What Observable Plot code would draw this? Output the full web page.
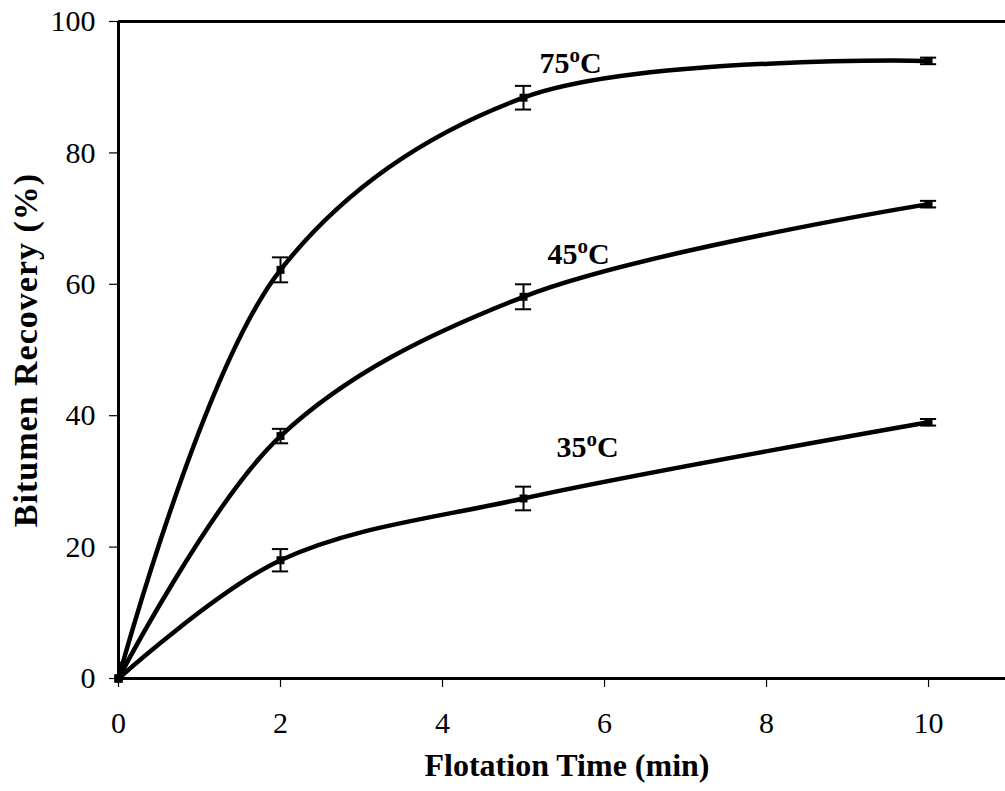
<!DOCTYPE html>
<html><head><meta charset="utf-8">
<script src="https://cdn.jsdelivr.net/npm/d3@7"></script>
<script src="https://cdn.jsdelivr.net/npm/@observablehq/plot@0.6"></script>
<style>body{margin:0;background:#fff} svg{display:block}</style>
</head><body><div id="chart"></div>
<script>
const times = [0, 2, 5, 10];
const rec75 = [0, 62.2, 88.4, 94];
const err75 = [2.4, 1.9, 1.8, 0.5];
const rec45 = [0, 36.9, 58.1, 72.2];
const err45 = [2, 1.1, 1.9, 0.5];
const rec35 = [0, 18, 27.4, 39];
const err35 = [2, 1.7, 1.8, 0.5];
const seriesNames = ["75oC", "45oC", "35oC"];
const labelX = [5.58, 5.68, 5.79];
const labelY = [93.7, 64.5, 35.2];
const xTicks = [0, 2, 4, 6, 8, 10];
const yTicks = [0, 20, 40, 60, 80, 100];
const xTitle = "Flotation Time (min)";
const yTitle = "Bitumen Recovery (%)";

const allRec = [rec75, rec45, rec35];
const allErr = [err75, err45, err35];
const rows = [];
seriesNames.forEach((s, i) => times.forEach((t, j) => rows.push({series: s, x: t, y: allRec[i][j], e: allErr[i][j]})));
const labels = seriesNames.map((s, i) => ({text: s, x: labelX[i], y: labelY[i]}));

const capHalf = 0.1;
const font = "'Liberation Serif', 'Times New Roman', serif";

const plot = Plot.plot({
  width: 1005, height: 791,
  marginLeft: 118, marginRight: 0, marginTop: 21, marginBottom: 113,
  style: {fontFamily: font, fontSize: "30px", color: "#000", background: "#fff", overflow: "visible"},
  x: {domain: [0, 10.95]},
  y: {domain: [0, 100]},
  marks: [
    Plot.axisX({ticks: xTicks, tickSize: 9, tickPadding: 24, label: null, strokeWidth: 1.2, fontSize: 30, className: "tickx"}),
    Plot.axisY({ticks: yTicks, tickSize: 9, tickPadding: 14, label: null, strokeWidth: 1.2, fontSize: 30, className: "ticky"}),
    Plot.ruleY([0, 100], {stroke: "#000", strokeWidth: 3}),
    Plot.ruleX([0], {stroke: "#000", strokeWidth: 3}),
    Plot.line(rows, {x: "x", y: "y", z: "series", curve: "catmull-rom", stroke: "#000", strokeWidth: 4.5}),
    Plot.ruleX(rows, {x: "x", y1: d => d.y - d.e, y2: d => d.y + d.e, stroke: "#000", strokeWidth: 2, clip: "frame"}),
    Plot.ruleY(rows, {y: d => d.y - d.e, x1: d => d.x - capHalf, x2: d => d.x + capHalf, stroke: "#000", strokeWidth: 2, clip: "frame"}),
    Plot.ruleY(rows, {y: d => d.y + d.e, x1: d => d.x - capHalf, x2: d => d.x + capHalf, stroke: "#000", strokeWidth: 2, clip: "frame"}),
    Plot.dot(rows, {x: "x", y: "y", symbol: "square", r: 4.5, fill: "#000", stroke: "none"}),
    Plot.text(labels, {x: "x", y: "y", text: "text", fontSize: 30, fontWeight: "bold", fill: "#000", className: "series-label"}),
    Plot.text([xTitle], {frameAnchor: "bottom", dx: 5, dy: 97, fontSize: 32, fontWeight: "bold", fill: "#000"}),
    Plot.text([yTitle], {frameAnchor: "left", textAnchor: "middle", dx: -92, rotate: -90, fontSize: 34, fontWeight: "bold", fill: "#000", className: "ytitle"})
  ]
});

// tick label size
d3.select(plot).selectAll(".tickx text, .ticky text").style("font-size", "30px");
d3.select(plot).selectAll(".ytitle text").style("letter-spacing", "1px");

// superscript "o" in the series labels
d3.select(plot).selectAll(".series-label text").each(function() {
  const t = d3.select(this);
  const s = t.text();
  const m = s.match(/^(\d+)o(C)$/);
  if (!m) return;
  t.text(null);
  t.append("tspan").text(m[1]);
  t.append("tspan").attr("font-size", "21px").attr("dy", "-11px").text("o");
  t.append("tspan").attr("dy", "11px").text(m[2]);
});

document.getElementById("chart").appendChild(plot);
</script>
</body></html>
